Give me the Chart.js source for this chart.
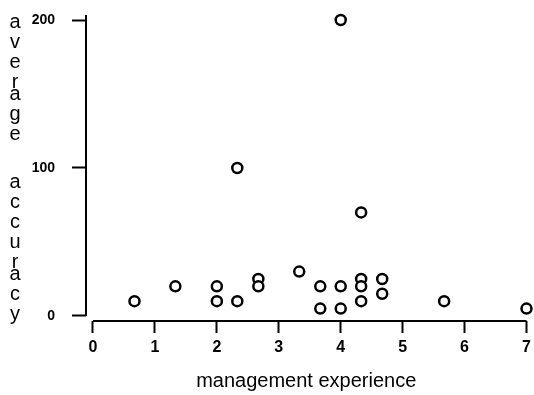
<!DOCTYPE html>
<html>
<head>
<meta charset="utf-8">
<script src="https://cdn.jsdelivr.net/npm/chart.js@4"></script>
<style>
  html, body { margin: 0; padding: 0; background: #fff; }
  #wrap { width: 534px; height: 395px; }
</style>
</head>
<body>
<div id="wrap"><canvas id="grafica"></canvas></div>
<script>
// datos
const experiencia = [0.67, 1.33, 2, 2, 2.33, 2.33, 2.67, 2.67, 3.33, 3.67, 3.67, 4, 4, 4, 4.33, 4.33, 4.33, 4.33, 4.67, 4.67, 5.67, 7];
const precision   = [10,   20,   20, 10, 10,  100,  25,   20,   30,   20,   5,    200, 20, 5, 70,   25,   20,   10,   25,   15,   10,   5];
const ticksX = [0, 1, 2, 3, 4, 5, 6, 7];
const ticksY = [0, 100, 200];
const tituloX = "management experience";
const tituloY = "average accuracy";

const fuente = "'Liberation Sans', Arial, Helvetica, sans-serif";

// ejes separados + titulo vertical letra por letra
const ejesPlugin = {
  id: "ejes",
  afterDraw(chart) {
    const ctx = chart.ctx;
    const x = chart.scales.x, y = chart.scales.y;
    const area = chart.chartArea;
    ctx.save();
    ctx.strokeStyle = "#000";
    ctx.lineWidth = 2;
    ctx.beginPath();
    ctx.moveTo(area.left, y.getPixelForValue(ticksY[ticksY.length - 1]) - 5);
    ctx.lineTo(area.left, y.getPixelForValue(ticksY[0]));
    ctx.moveTo(x.getPixelForValue(ticksX[0]), area.bottom);
    ctx.lineTo(x.getPixelForValue(ticksX[ticksX.length - 1]), area.bottom);
    ctx.stroke();

    // titulo Y apilado
    ctx.fillStyle = "#000";
    ctx.font = "20px " + fuente;
    ctx.textAlign = "center";
    ctx.textBaseline = "middle";
    let py = 22;
    tituloY.split("").forEach(c => {
      if (c === " ") { py += 28; return; }
      ctx.fillText(c, 15, py);
      py += (c === "r") ? 12 : 20;
    });
    ctx.restore();
  }
};

new Chart(document.getElementById("grafica"), {
  type: "scatter",
  data: {
    datasets: [{
      data: experiencia.map((v, i) => ({ x: v, y: precision[i] })),
      pointStyle: "circle",
      pointRadius: 5,
      pointBorderWidth: 2.5,
      pointBorderColor: "#000",
      pointBackgroundColor: "#fff",
      clip: false
    }]
  },
  options: {
    responsive: true,
    maintainAspectRatio: false,
    animation: false,
    layout: { padding: { top: 20, right: 7, left: 0, bottom: 0 } },
    plugins: {
      legend: { display: false },
      tooltip: { enabled: false }
    },
    scales: {
      x: {
        type: "linear",
        min: -0.113,
        max: 7,
        afterBuildTicks: s => { s.ticks = ticksX.map(v => ({ value: v })); },
        afterFit: s => { s.height = 395 - 321; s.paddingLeft = 0; s.paddingRight = 0; },
        border: { display: false },
        grid: {
          drawOnChartArea: false,
          drawTicks: true,
          tickLength: 12,
          tickWidth: 2,
          tickColor: "#000"
        },
        ticks: {
          color: "#000",
          padding: 5,
          maxRotation: 0,
          font: { family: fuente, size: 16, weight: "bold" }
        },
        title: {
          display: true,
          text: tituloX,
          color: "#000",
          padding: { top: 4, bottom: 2 },
          font: { family: fuente, size: 20 }
        }
      },
      y: {
        type: "linear",
        min: -3.4,
        max: 200,
        afterBuildTicks: s => { s.ticks = ticksY.map(v => ({ value: v })); },
        afterFit: s => { s.width = 86; s.paddingTop = 0; s.paddingBottom = 0; },
        border: { display: false },
        grid: {
          drawOnChartArea: false,
          drawTicks: true,
          tickLength: 14,
          tickWidth: 2,
          tickColor: "#000"
        },
        ticks: {
          color: "#000",
          padding: 17,
          font: { family: fuente, size: 14, weight: "bold" }
        }
      }
    }
  },
  plugins: [ejesPlugin]
});
</script>
</body>
</html>
